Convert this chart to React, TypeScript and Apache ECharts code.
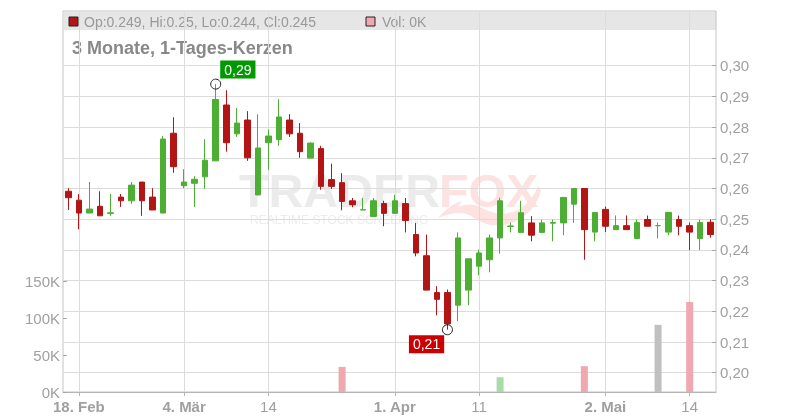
import React, { useEffect, useRef } from 'react';
import * as echarts from 'echarts';

const dates = [
  '2019-02-15', '2019-02-18', '2019-02-19', '2019-02-20', '2019-02-21', '2019-02-22',
  '2019-02-25', '2019-02-26', '2019-02-27', '2019-02-28', '2019-03-01',
  '2019-03-04', '2019-03-05', '2019-03-06', '2019-03-07', '2019-03-08',
  '2019-03-11', '2019-03-12', '2019-03-13', '2019-03-14', '2019-03-15',
  '2019-03-18', '2019-03-19', '2019-03-20', '2019-03-21', '2019-03-22',
  '2019-03-25', '2019-03-26', '2019-03-27', '2019-03-28', '2019-03-29',
  '2019-04-01', '2019-04-02', '2019-04-03', '2019-04-04', '2019-04-05',
  '2019-04-08', '2019-04-09', '2019-04-10', '2019-04-11', '2019-04-12',
  '2019-04-15', '2019-04-16', '2019-04-17', '2019-04-18',
  '2019-04-23', '2019-04-24', '2019-04-25', '2019-04-26',
  '2019-04-29', '2019-04-30',
  '2019-05-02', '2019-05-03',
  '2019-05-06', '2019-05-07', '2019-05-08', '2019-05-09', '2019-05-10',
  '2019-05-13', '2019-05-14', '2019-05-15', '2019-05-16',
];

const opens = [
  0.2591, 0.2562, 0.2520, 0.2542, 0.2519, 0.2572, 0.2560, 0.2621, 0.2572, 0.2520,
  0.2780, 0.2609, 0.2617, 0.2638, 0.2690, 0.2872, 0.2778, 0.2823, 0.2579, 0.2749,
  0.2759, 0.2823, 0.2780, 0.2699, 0.2730, 0.2629, 0.2619, 0.2560, 0.2530, 0.2509,
  0.2551, 0.2519, 0.2551, 0.2450, 0.2381, 0.2261, 0.2261, 0.2220, 0.2269, 0.2347,
  0.2368, 0.2439, 0.2476, 0.2457, 0.2488, 0.2457, 0.2487, 0.2488, 0.2549, 0.2600,
  0.2458, 0.2532, 0.2466, 0.2479, 0.2437, 0.2499, 0.2479, 0.2458, 0.2499, 0.2479,
  0.2437, 0.249,
];
const highs = [
  0.2601, 0.2582, 0.2621, 0.2591, 0.2582, 0.2582, 0.2621, 0.2621, 0.2601, 0.2771,
  0.2832, 0.2663, 0.2640, 0.2761, 0.2940, 0.2920, 0.2862, 0.2852, 0.2842, 0.2792,
  0.2891, 0.2842, 0.2813, 0.2750, 0.2739, 0.2681, 0.2650, 0.2569, 0.2569, 0.2569,
  0.2560, 0.2580, 0.2569, 0.2488, 0.2450, 0.2282, 0.2271, 0.2457, 0.2371, 0.2401,
  0.2450, 0.2570, 0.2489, 0.2560, 0.2510, 0.2498, 0.2499, 0.2571, 0.2600, 0.2600,
  0.2522, 0.2541, 0.2512, 0.2512, 0.2499, 0.2512, 0.2489, 0.2522, 0.2512, 0.2489,
  0.2499, 0.250,
];
const lows = [
  0.2530, 0.2467, 0.2520, 0.2511, 0.2511, 0.2540, 0.2550, 0.2511, 0.2530, 0.2520,
  0.2651, 0.2601, 0.2540, 0.2599, 0.2690, 0.2720, 0.2768, 0.2690, 0.2579, 0.2661,
  0.2739, 0.2768, 0.2700, 0.2699, 0.2596, 0.2598, 0.2529, 0.2539, 0.2530, 0.2509,
  0.2477, 0.2519, 0.2457, 0.2379, 0.2269, 0.2187, 0.2140, 0.2168, 0.2220, 0.2317,
  0.2327, 0.2388, 0.2457, 0.2457, 0.2428, 0.2457, 0.2428, 0.2448, 0.2488, 0.2368,
  0.2428, 0.2458, 0.2466, 0.2466, 0.2437, 0.2477, 0.2437, 0.2448, 0.2448, 0.2399,
  0.2399, 0.244,
];
const closes = [
  0.2570, 0.2520, 0.2533, 0.2511, 0.2521, 0.2560, 0.2611, 0.2560, 0.2530, 0.2761,
  0.2671, 0.2621, 0.2630, 0.2692, 0.2890, 0.2749, 0.2813, 0.2700, 0.2732, 0.2771,
  0.2833, 0.2778, 0.2720, 0.2748, 0.2607, 0.2607, 0.2558, 0.2547, 0.2531, 0.2560,
  0.2519, 0.2560, 0.2496, 0.2390, 0.2269, 0.2239, 0.2159, 0.2439, 0.2371, 0.2390,
  0.2439, 0.2560, 0.2478, 0.2521, 0.2448, 0.2488, 0.2489, 0.2571, 0.2600, 0.2466,
  0.2522, 0.2477, 0.2479, 0.2466, 0.2489, 0.2477, 0.2479, 0.2522, 0.2477, 0.2458,
  0.2489, 0.245,
];
const volumes = [
  0, 0, 0, 0, 0, 0, 0, 0, 0, 0,
  0, 0, 0, 0, 0, 0, 0, 0, 0, 0,
  0, 0, 0, 0, 0, 0, 34000, 0, 0, 0,
  0, 0, 0, 0, 0, 0, 0, 0, 0, 0,
  0, 20000, 0, 0, 0, 0, 0, 0, 0, 35000,
  0, 0, 0, 0, 0, 0, 91000, 0, 0, 122000,
  0, 0,
];

const labelDates = ['2019-02-18', '2019-03-04', '2019-03-14', '2019-04-01', '2019-04-11', '2019-05-02', '2019-05-14'];
const labelTexts = ['18. Feb', '4. Mär', '14', '1. Apr', '11', '2. Mai', '14'];
const labelBold = [true, true, false, true, false, true, false];

const title = '3 Monate, 1-Tages-Kerzen';

const GREEN = '#4caf34';
const RED = '#b31515';
const VOL_UP = '#a9dba9';
const VOL_DOWN = '#f0a7af';
const VOL_FLAT = '#c0c0c0';
const FONT = '"Liberation Sans", Arial, sans-serif';
const LABEL = '#a0a0a0';

const FOX_SWOOSH =
  'M438,218 C445,210 452,204 462,201 L458,207 C468,203 476,204 482,208 C492,214 505,216 518,210 ' +
  'C528,204 534,196 538,186 L541,190 C538,204 528,216 514,222 C500,228 486,226 474,218 C466,212 456,211 438,218 Z';

let registered = false;

export default function App() {
  const ref = useRef<HTMLDivElement>(null);

  useEffect(() => {
    if (!registered) {
      echarts.graphic.registerShape('foxSwoosh', echarts.graphic.extendPath(FOX_SWOOSH, {}));
      registered = true;
    }
    const chart = echarts.init(ref.current!, undefined, { renderer: 'svg' });

    const candleData = dates.map((_, i) => [opens[i], closes[i], lows[i], highs[i]]);
    const volData = volumes.map((v, i) => ({
      value: v,
      itemStyle: {
        color: closes[i] > opens[i] ? VOL_UP : closes[i] < opens[i] ? VOL_DOWN : VOL_FLAT,
      },
    }));

    let hiIdx = 0;
    let loIdx = 0;
    highs.forEach((h, i) => { if (h > highs[hiIdx]) hiIdx = i; });
    lows.forEach((l, i) => { if (l < lows[loIdx]) loIdx = i; });

    const last = dates.length - 1;
    const isLabel = (_idx: number, value: string) => labelDates.indexOf(value) >= 0;
    const fmtPrice = (v: number) => v.toFixed(2).replace('.', ',');

    const option: any = {
      animation: false,
      textStyle: { fontFamily: FONT },
      grid: [
        { left: 63, right: 84, top: 11, bottom: 28, show: true, borderColor: '#c4c4c4', borderWidth: 1 },
        { left: 63, right: 84, top: 281.3, bottom: 28 },
        { left: 63, right: 84, top: 65.7, bottom: 47.3 },
      ],
      xAxis: [
        {
          type: 'category', gridIndex: 0, data: dates, boundaryGap: true,
          axisLine: { show: true, lineStyle: { color: '#b4b4b4' } },
          axisTick: { show: true, interval: isLabel, alignWithLabel: true, length: 4, lineStyle: { color: '#b4b4b4' } },
          axisLabel: {
            interval: isLabel,
            margin: 7,
            formatter: (value: string) => {
              const k = labelDates.indexOf(value);
              if (k < 0) return '';
              return (labelBold[k] ? '{b|' : '{n|') + labelTexts[k] + '}';
            },
            rich: {
              b: { fontWeight: 'bold', fontSize: 15, color: LABEL, fontFamily: FONT },
              n: { fontSize: 15, color: LABEL, fontFamily: FONT },
            },
          },
          splitLine: { show: true, interval: isLabel, alignWithLabel: true, lineStyle: { color: '#dcdcdc' } },
        },
        { type: 'category', gridIndex: 1, data: dates, show: false },
        { type: 'category', gridIndex: 2, data: dates, show: false },
      ],
      yAxis: [
        { type: 'value', gridIndex: 0, show: false, splitLine: { show: false } },
        {
          type: 'value', gridIndex: 1, position: 'left', min: 0, max: 150000, interval: 50000,
          axisLine: { show: false },
          axisTick: { show: true, inside: true, length: 4, lineStyle: { color: '#a8a8a8' } },
          axisLabel: { formatter: (v: number) => Math.round(v / 1000) + 'K', color: LABEL, fontSize: 15, margin: 3 },
          splitLine: { show: false },
        },
        {
          type: 'value', gridIndex: 2, position: 'right', min: 0.2, max: 0.3, interval: 0.01,
          axisLine: { show: false },
          axisTick: { show: true, inside: true, length: 4, lineStyle: { color: '#a8a8a8' } },
          axisLabel: { formatter: fmtPrice, color: LABEL, fontSize: 15, margin: 4 },
          splitLine: { show: true, lineStyle: { color: '#dcdcdc' } },
        },
      ],
      series: [
        {
          type: 'bar', xAxisIndex: 1, yAxisIndex: 1, data: volData, barWidth: 7,
        },
        {
          type: 'candlestick', xAxisIndex: 2, yAxisIndex: 2, data: candleData, barWidth: 6,
          itemStyle: { color: GREEN, color0: RED, borderColor: GREEN, borderColor0: RED, borderWidth: 1 },
          markPoint: {
            symbol: 'circle',
            symbolSize: 10,
            itemStyle: { color: 'rgba(255,255,255,0)', borderColor: '#222', borderWidth: 1 },
            data: [
              {
                coord: [hiIdx, highs[hiIdx]], value: highs[hiIdx],
                label: {
                  show: true, position: [10, -18], formatter: () => fmtPrice(highs[hiIdx]),
                  backgroundColor: '#009a00', color: '#fff', fontSize: 14, padding: [2, 4], fontFamily: FONT,
                },
              },
              {
                coord: [loIdx, lows[loIdx]], value: lows[loIdx],
                label: {
                  show: true, position: [-33, 11], formatter: () => fmtPrice(lows[loIdx]),
                  backgroundColor: '#cc0000', color: '#fff', fontSize: 14, padding: [2, 4], fontFamily: FONT,
                },
              },
            ],
          },
        },
      ],
      graphic: [
        { type: 'rect', z: -1, shape: { x: 64, y: 12, width: 652, height: 18 }, style: { fill: '#e6e6e6' } },
        { type: 'rect', shape: { x: 69, y: 17, width: 9, height: 9 }, style: { fill: RED, stroke: '#222', lineWidth: 1 } },
        {
          type: 'text', x: 84, y: 21.5,
          style: {
            text: `Op:${opens[last]}, Hi:${highs[last]}, Lo:${lows[last]}, Cl:${closes[last]}`,
            fontSize: 14, fill: '#999', fontFamily: FONT, verticalAlign: 'middle',
          },
        },
        { type: 'rect', shape: { x: 366, y: 17, width: 9, height: 9 }, style: { fill: VOL_DOWN, stroke: '#222', lineWidth: 1 } },
        {
          type: 'text', x: 382, y: 21.5,
          style: { text: `Vol: ${Math.round(volumes[last] / 1000)}K`, fontSize: 14, fill: '#999', fontFamily: FONT, verticalAlign: 'middle' },
        },
        {
          type: 'text', x: 72, y: 47.5,
          style: { text: title, fontSize: 18, fontWeight: 'bold', fill: '#888', fontFamily: FONT, verticalAlign: 'middle' },
        },
        {
          type: 'text', z: -1, x: 239, y: 191, scaleX: 1.05,
          style: { text: 'TRADER', fontSize: 46, lineHeight: 36, fontWeight: 'bold', fill: '#ebebeb', fontFamily: FONT, verticalAlign: 'middle' },
        },
        {
          type: 'text', z: -1, x: 439, y: 191, scaleX: 1.05,
          style: { text: 'FOX', fontSize: 46, lineHeight: 36, fontWeight: 'bold', fill: '#fde2e2', fontFamily: FONT, verticalAlign: 'middle' },
        },
        {
          type: 'foxSwoosh', z: -1, x: 0, y: 0,
          style: { fill: '#fde2e2' },
        },
        {
          type: 'text', z: -1, x: 250, y: 220,
          style: { text: 'REALTIME STOCK SCREENING', fontSize: 12, lineHeight: 12, fill: '#ececec', fontFamily: FONT, verticalAlign: 'middle' },
        },
      ],
    };

    chart.setOption(option);
    return () => chart.dispose();
  }, []);

  return <div ref={ref} style={{ position: 'fixed', left: 0, top: 0, width: 800, height: 420 }} />;
}
